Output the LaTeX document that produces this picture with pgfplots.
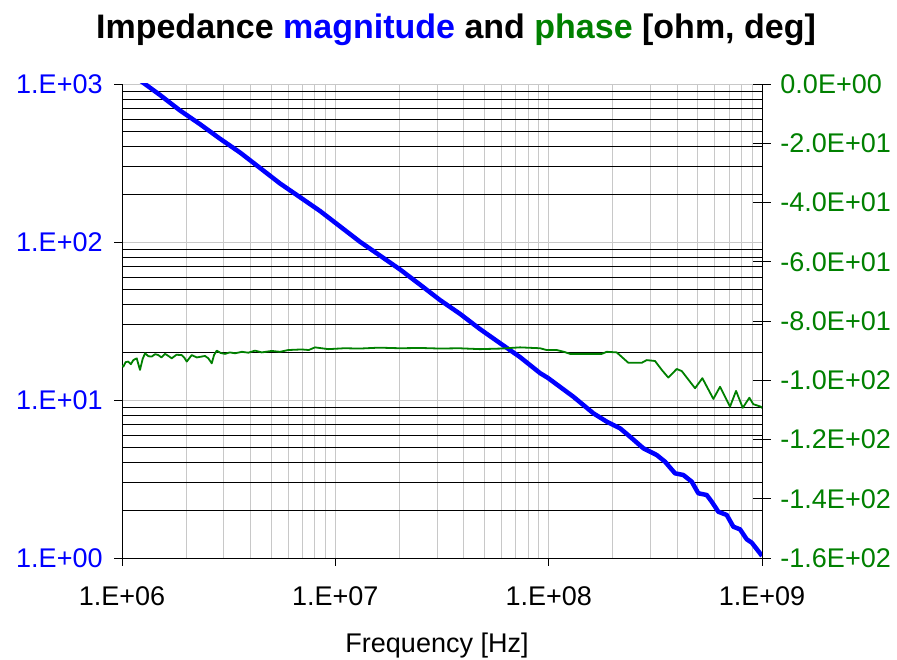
\documentclass[border=0pt]{standalone}
\usepackage{pgfplots}
\pgfplotsset{compat=1.18}
\usepackage{fontspec}
\setmainfont{Liberation Sans}
\definecolor{magblue}{RGB}{0,0,255}
\definecolor{phgreen}{RGB}{0,128,0}
\definecolor{gridgray}{RGB}{200,200,200}

\begin{document}
\begin{tikzpicture}
\path[use as bounding box] (-122pt,-101pt) rectangle (775pt,558pt);
% left axis: magnitude (log)
\begin{axis}[
  at={(0,0)}, anchor=south west,
  width=640pt, height=474pt, scale only axis,
  xmode=log, ymode=log,
  xmin=1e6, xmax=1e9, ymin=1, ymax=1000,
  axis x line*=bottom, axis y line*=left,
  axis line style={-, black, line width=0.9pt},
  xtick={1e6,1e7,1e8,1e9},
  xticklabels={1.E+06,1.E+07,1.E+08,1.E+09},
  ytick={1,10,100,1000},
  yticklabels={1.E+00,1.E+01,1.E+02,1.E+03},
  minor xtick={2e6,3e6,4e6,5e6,6e6,7e6,8e6,9e6,2e7,3e7,4e7,5e7,6e7,7e7,8e7,9e7,2e8,3e8,4e8,5e8,6e8,7e8,8e8,9e8},
  minor ytick={2,3,4,5,6,7,8,9,20,30,40,50,60,70,80,90,200,300,400,500,600,700,800,900},
  tick align=outside, major tick length=8pt, minor tick length=0pt,
  tick style={black, line width=0.8pt},
  xmajorgrids, xminorgrids, ymajorgrids, yminorgrids,
  major x grid style={gridgray, line width=0.9pt},
  minor x grid style={gridgray, line width=0.9pt},
  major y grid style={gridgray, line width=0.9pt},
  minor y grid style={black, line width=0.8pt},
  ticklabel style={font=\fontsize{27}{27}\selectfont},
  yticklabel style={text=magblue, xshift=-8pt},
  xticklabel style={text=black, yshift=-17pt},
  title={Impedance \textcolor{magblue}{magnitude} and \textcolor{phgreen}{phase} [ohm, deg]},
  title style={at={(0.5,1)}, anchor=base, yshift=39pt, xshift=14pt,
    font=\bfseries\fontsize{34}{34}\selectfont},
  xlabel={Frequency [Hz]},
  xlabel style={at={(0.5,0)}, anchor=base, yshift=-94pt, xshift=-5pt,
    font=\fontsize{27}{27}\selectfont},
]
\addplot[magblue, line width=4.5pt, line join=round] coordinates {
(1.000e6,1277) (1.214e6,1054) (1.507e6,852) (1.871e6,679.6) (2.321e6,556.6)
(2.881e6,450.1) (3.574e6,368.5) (4.436e6,294.1) (5.505e6,234.6) (6.830e6,192.1)
(8.476e6,157.1) (1.052e7,125.5) (1.305e7,100.3) (1.620e7,82.0) (2.010e7,67.0)
(2.495e7,53.7) (3.095e7,42.9) (3.841e7,35.1) (4.766e7,28.1) (5.914e7,22.9)
(7.338e7,18.7) (9.110e7,14.8) (9.930e7,13.78) (1.305e8,10.49) (1.620e8,8.237)
(1.872e8,7.291) (2.160e8,6.622) (2.406e8,5.858) (2.778e8,4.947) (3.210e8,4.486)
(3.511e8,4.070) (3.911e8,3.436) (4.278e8,3.352) (4.684e8,3.040) (5.029e8,2.568)
(5.508e8,2.504) (5.813e8,2.271) (6.241e8,1.963) (6.833e8,1.872) (7.338e8,1.578)
(7.887e8,1.519) (8.481e8,1.313) (8.951e8,1.250) (9.787e8,1.071) (1.000e9,1.03)
};
\end{axis}
% right axis: phase (linear)
\begin{axis}[
  at={(0,0)}, anchor=south west,
  width=640pt, height=474pt, scale only axis,
  xmode=log, xmin=1e6, xmax=1e9, ymin=-160, ymax=0,
  axis x line=none, axis y line*=right,
  axis line style={-, black, line width=0.9pt},
  ytick={-160,-140,-120,-100,-80,-60,-40,-20,0},
  yticklabels={-1.6E+02,-1.4E+02,-1.2E+02,-1.0E+02,-8.0E+01,-6.0E+01,-4.0E+01,-2.0E+01,0.0E+00},
  tick align=center, major tick length=18pt,
  tick style={black, line width=0.8pt},
  ticklabel style={font=\fontsize{27}{27}\selectfont},
  yticklabel style={text=phgreen, xshift=6pt},
]
\addplot[phgreen, line width=1.8pt, line join=round] coordinates {
(1.000e6,-95.0) (1.014e6,-95.4) (1.040e6,-93.9) (1.070e6,-93.7) (1.100e6,-94.6)
(1.130e6,-93.2) (1.172e6,-92.6) (1.214e6,-96.5) (1.250e6,-92.8) (1.282e6,-90.9)
(1.330e6,-91.9) (1.378e6,-92.0) (1.430e6,-91.2) (1.480e6,-91.5) (1.530e6,-92.3)
(1.591e6,-91.1) (1.650e6,-91.8) (1.710e6,-92.6) (1.800e6,-91.4) (1.905e6,-91.5)
(1.960e6,-92.4) (2.011e6,-93.7) (2.122e6,-91.5) (2.240e6,-92.3) (2.364e6,-92.0)
(2.449e6,-91.8) (2.540e6,-92.6) (2.634e6,-94.3) (2.700e6,-91.5) (2.780e6,-90.0)
(2.900e6,-90.8) (3.040e6,-91.1) (3.200e6,-90.6) (3.386e6,-90.9) (3.650e6,-90.4)
(3.909e6,-90.7) (4.202e6,-90.0) (4.517e6,-90.6) (5.031e6,-90.1) (5.500e6,-90.4)
(6.019e6,-89.8) (6.955e6,-89.6) (7.500e6,-89.8) (8.029e6,-88.9) (9.270e6,-89.5)
(1.100e7,-89.2) (1.305e7,-89.3) (1.600e7,-89.0) (2.009e7,-89.2) (2.500e7,-89.1)
(3.095e7,-89.3) (3.800e7,-89.2) (4.764e7,-89.5) (6.000e7,-89.3) (7.338e7,-88.9)
(9.110e7,-89.2) (9.790e7,-89.8) (1.091e8,-89.8) (1.180e8,-90.4) (1.259e8,-91.1)
(1.773e8,-91.1) (1.871e8,-90.4) (2.084e8,-90.6) (2.362e8,-94.1) (2.731e8,-94.1)
(2.881e8,-93.2) (3.151e8,-93.5) (3.388e8,-96.5) (3.637e8,-99.1) (3.984e8,-96.2)
(4.205e8,-96.9) (4.854e8,-102.7) (5.253e8,-99.3) (5.914e8,-106.3) (6.357e8,-102.2)
(7.083e8,-108.9) (7.556e8,-103.6) (8.124e8,-109.3) (8.721e8,-105.9) (9.107e8,-108.1)
(9.865e8,-108.9) (1.000e9,-109.4)
};
\end{axis}
\end{tikzpicture}
\end{document}
